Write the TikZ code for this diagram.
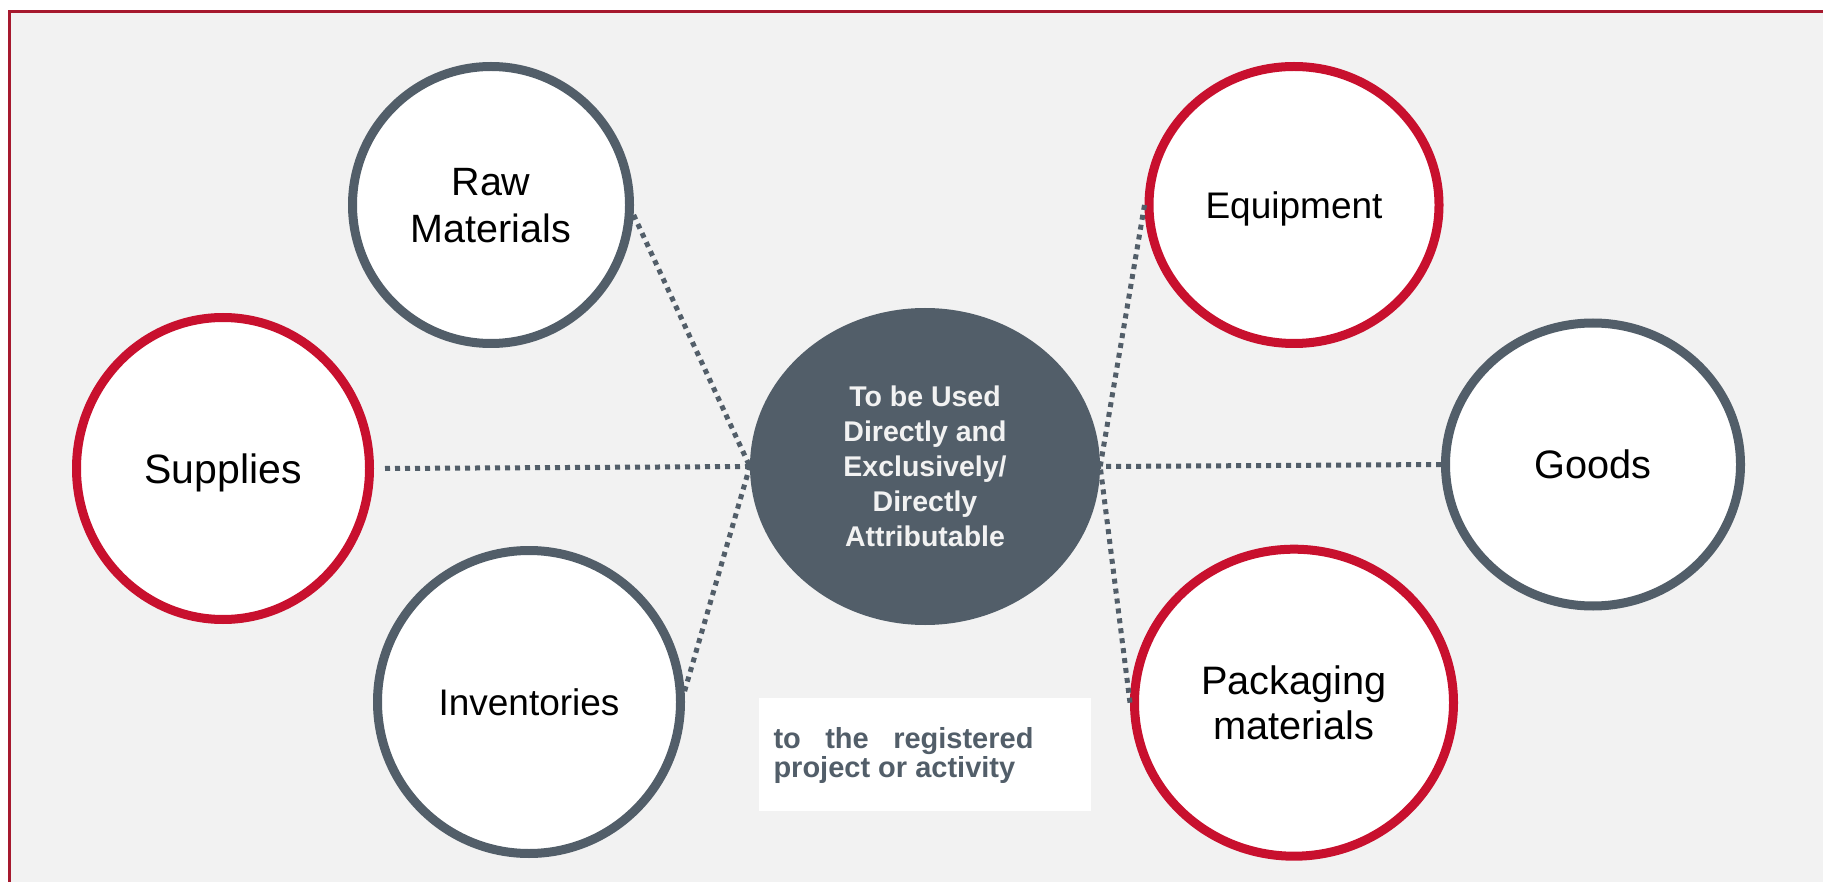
\documentclass[tikz,border=0pt]{standalone}
\usepackage{fontspec}
\setmainfont{Liberation Sans}
\usetikzlibrary{shapes.geometric}
\definecolor{slate}{HTML}{525E69}
\definecolor{crimson}{HTML}{C8102E}
\definecolor{framered}{HTML}{A6192E}
\definecolor{bgray}{HTML}{F2F2F2}
\begin{document}
\begin{tikzpicture}[x=1pt,y=-1pt,
  bubble/.style={ellipse, draw, line width=9pt, fill=white, inner sep=0pt, align=center, text=black},
  greyring/.style={bubble, draw=slate},
  redring/.style={bubble, draw=crimson},
  link/.style={draw=slate, line width=5pt, dash pattern=on 5pt off 5pt},
]
\clip (0,0) rectangle (1823,882);
\fill[white] (0,0) rectangle (1823,882);
\draw[framered, line width=3pt, fill=bgray] (9.5,11.5) rectangle (1850,910);

% hub
\node[ellipse, fill=slate, minimum width=350pt, minimum height=317pt, inner sep=0pt,
      align=center, text=bgray, font=\bfseries\fontsize{28.5}{35}\selectfont,
      text height=160.4pt, text depth=0pt] (hub) at (925,466.5)
  {\spaceskip=0pt\xspaceskip=0pt To be Used\\Directly and\\Exclusively/\\Directly\\Attributable};

% left bubbles
\node[greyring, minimum width=277pt, minimum height=277pt,
      font=\fontsize{39.5}{47.5}\selectfont, text height=75.8pt, text depth=0pt]
  (raw) at (491,205) {Raw\\Materials};
\node[redring, minimum width=293pt, minimum height=302pt,
      font=\fontsize{41}{49}\selectfont, text height=29.4pt, text depth=0pt]
  (sup) at (223,468.5) {Supplies};
\node[greyring, minimum width=303pt, minimum height=303pt,
      font=\fontsize{37}{44}\selectfont, text height=26.5pt, text depth=0pt]
  (inv) at (529,702) {Inventories};

% right bubbles
\node[redring, minimum width=290pt, minimum height=277pt,
      font=\fontsize{37}{44}\selectfont, text height=26.5pt, text depth=0pt]
  (eq) at (1294,205) {Equipment};
\node[greyring, minimum width=295pt, minimum height=283pt,
      font=\fontsize{39.7}{47}\selectfont, text height=28.4pt, text depth=0pt]
  (goods) at (1593,464.5) {Goods};
\node[redring, minimum width=319pt, minimum height=307pt,
      font=\fontsize{39.7}{45.5}\selectfont, text height=73.9pt, text depth=0pt]
  (pack) at (1294,702.7) {Packaging\\materials};

% note box
\node[rectangle, fill=white, anchor=north west, inner xsep=15pt, inner ysep=0pt,
      minimum height=113pt, text height=16.7pt, text depth=28.5pt, text=slate,
      font=\bfseries\fontsize{29}{28.5}\selectfont] (note) at (758.3,697.7)
  {\parbox[t]{260pt}{\bfseries\fontsize{29}{28.5}\selectfont\spaceskip=0pt\xspaceskip=0pt to the registered\linebreak project or activity}\rule{42pt}{0pt}};

% connectors
\draw[link] (raw.-4) -- (hub.west);
\draw[link] ([xshift=11pt]sup.east) -- (hub.west);
\draw[link] (inv.4) -- (hub.west);
\draw[link] (eq.west) -- (hub.east);
\draw[link] (goods.west) -- (hub.east);
\draw[link] (pack.west) -- (hub.east);
\end{tikzpicture}
\end{document}
